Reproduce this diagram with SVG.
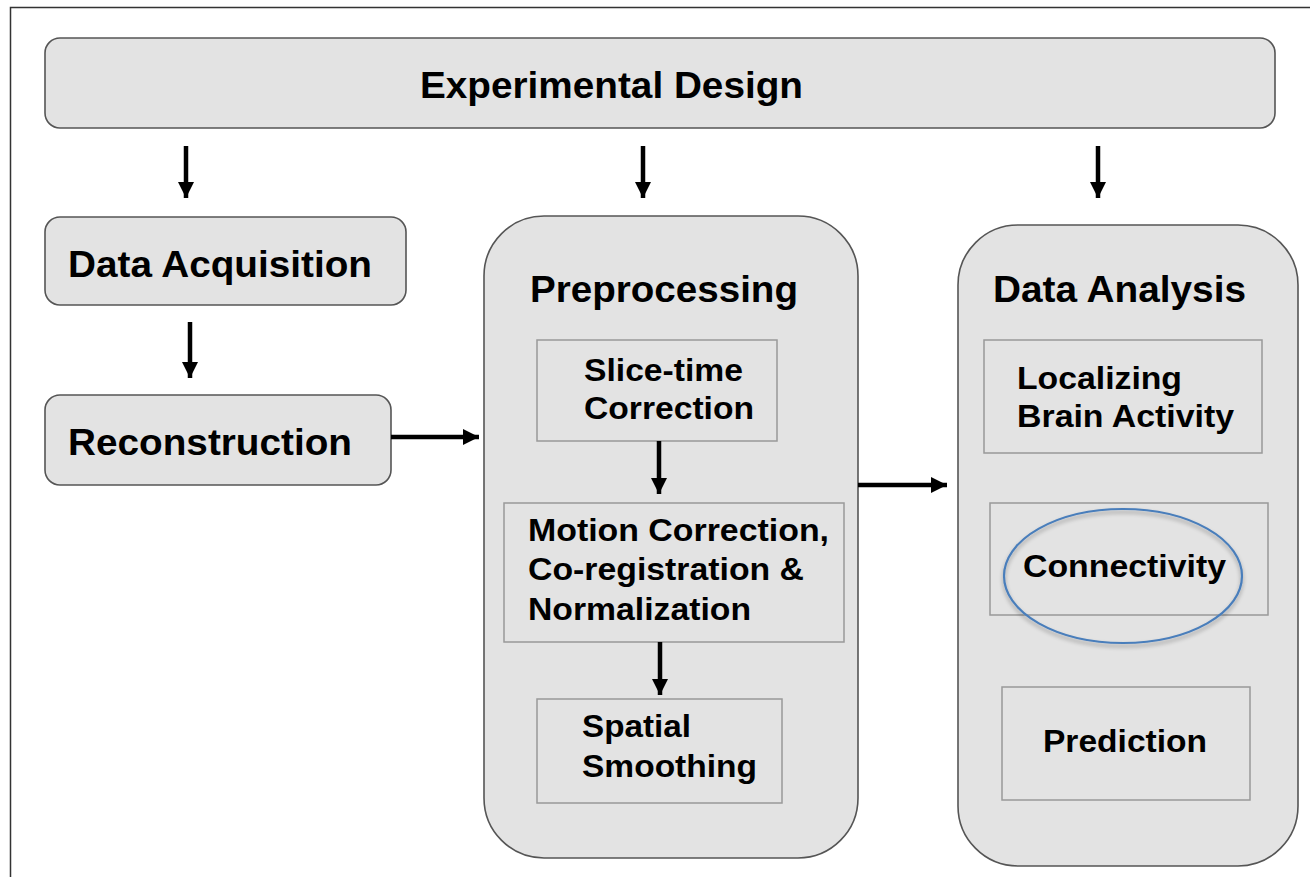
<svg xmlns="http://www.w3.org/2000/svg" width="1310" height="877" viewBox="0 0 1310 877">
<defs>
<style>
.t{font-family:"Liberation Sans",Arial,sans-serif;font-weight:bold;fill:#000}
.big{font-size:36px}
.mid{font-size:31px}
.box{fill:#e3e3e3;stroke:#555;stroke-width:1.6}
.inner{fill:#e3e3e3;stroke:#999;stroke-width:1.5}
.arr{stroke:#000;stroke-width:4.5;fill:none}
</style>
<marker id="ah" viewBox="0 0 10 10" refX="10" refY="5" markerWidth="3.6" markerHeight="3.6" orient="auto" markerUnits="strokeWidth">
<path d="M0,0 L10,5 L0,10 z" fill="#000"/>
</marker>
<filter id="sh" x="-20%" y="-20%" width="140%" height="150%">
<feGaussianBlur in="SourceAlpha" stdDeviation="2"/>
<feOffset dx="0" dy="3" result="b"/>
<feComponentTransfer><feFuncA type="linear" slope="0.35"/></feComponentTransfer>
<feMerge><feMergeNode/><feMergeNode in="SourceGraphic"/></feMerge>
</filter>
</defs>
<rect width="1310" height="877" fill="#fff"/>
<path d="M10.5,877 V7.5 H1310" fill="none" stroke="#333" stroke-width="1.5"/>

<g id="experimental-design">
<rect class="box" x="45" y="38" width="1230" height="90" rx="15"/>
<text class="t big" x="420" y="98" textLength="383" lengthAdjust="spacingAndGlyphs">Experimental Design</text>
</g>
<g id="data-acquisition">
<rect class="box" x="45" y="217" width="361" height="88" rx="15"/>
<text class="t big" x="68" y="277" textLength="304" lengthAdjust="spacingAndGlyphs">Data Acquisition</text>
</g>
<g id="reconstruction">
<rect class="box" x="45" y="395" width="346" height="90" rx="15"/>
<text class="t big" x="68" y="455" textLength="284" lengthAdjust="spacingAndGlyphs">Reconstruction</text>
</g>
<g id="preprocessing">
<rect class="box" x="484" y="216" width="374" height="642" rx="60"/>
<text class="t big" x="530" y="302" textLength="268" lengthAdjust="spacingAndGlyphs">Preprocessing</text>
</g>
<g id="slice-time">
<rect class="inner" x="537" y="340" width="240" height="101"/>
<text class="t mid" x="584" y="381" textLength="159" lengthAdjust="spacingAndGlyphs">Slice-time</text>
<text class="t mid" x="584" y="419" textLength="170" lengthAdjust="spacingAndGlyphs">Correction</text>
</g>
<g id="motion-correction">
<rect class="inner" x="504" y="503" width="340" height="139"/>
<text class="t mid" x="528" y="541" textLength="301" lengthAdjust="spacingAndGlyphs">Motion Correction,</text>
<text class="t mid" x="528" y="580" textLength="276" lengthAdjust="spacingAndGlyphs">Co-registration &amp;</text>
<text class="t mid" x="528" y="620" textLength="223" lengthAdjust="spacingAndGlyphs">Normalization</text>
</g>
<g id="spatial-smoothing">
<rect class="inner" x="537" y="699" width="245" height="104"/>
<text class="t mid" x="582" y="737" textLength="109" lengthAdjust="spacingAndGlyphs">Spatial</text>
<text class="t mid" x="582" y="777" textLength="175" lengthAdjust="spacingAndGlyphs">Smoothing</text>
</g>
<g id="data-analysis">
<rect class="box" x="958" y="225" width="340" height="641" rx="60"/>
<text class="t big" x="993" y="302" textLength="253" lengthAdjust="spacingAndGlyphs">Data Analysis</text>
</g>
<g id="localizing">
<rect class="inner" x="984" y="340" width="278" height="113"/>
<text class="t mid" x="1017" y="389" textLength="165" lengthAdjust="spacingAndGlyphs">Localizing</text>
<text class="t mid" x="1017" y="427" textLength="217" lengthAdjust="spacingAndGlyphs">Brain Activity</text>
</g>
<g id="connectivity">
<rect class="inner" x="990" y="503" width="278" height="112"/>
<ellipse cx="1123" cy="576" rx="119" ry="67" fill="none" stroke="#4a7ebb" stroke-width="2.2" filter="url(#sh)"/>
<text class="t mid" x="1023" y="577" textLength="203" lengthAdjust="spacingAndGlyphs">Connectivity</text>
</g>
<g id="prediction">
<rect class="inner" x="1002" y="687" width="248" height="113"/>
<text class="t mid" x="1043" y="752" textLength="164" lengthAdjust="spacingAndGlyphs">Prediction</text>
</g>

<g id="connectors">
<line class="arr" x1="186" y1="146" x2="186" y2="198" marker-end="url(#ah)"/>
<line class="arr" x1="643" y1="146" x2="643" y2="198" marker-end="url(#ah)"/>
<line class="arr" x1="1098" y1="146" x2="1098" y2="198" marker-end="url(#ah)"/>
<line class="arr" x1="190" y1="322" x2="190" y2="378" marker-end="url(#ah)"/>
<line class="arr" x1="391" y1="437" x2="479" y2="437" marker-end="url(#ah)"/>
<line class="arr" x1="659" y1="441" x2="659" y2="494" marker-end="url(#ah)"/>
<line class="arr" x1="660" y1="642" x2="660" y2="695" marker-end="url(#ah)"/>
<line class="arr" x1="858" y1="485" x2="947" y2="485" marker-end="url(#ah)"/>
</g>
</svg>
